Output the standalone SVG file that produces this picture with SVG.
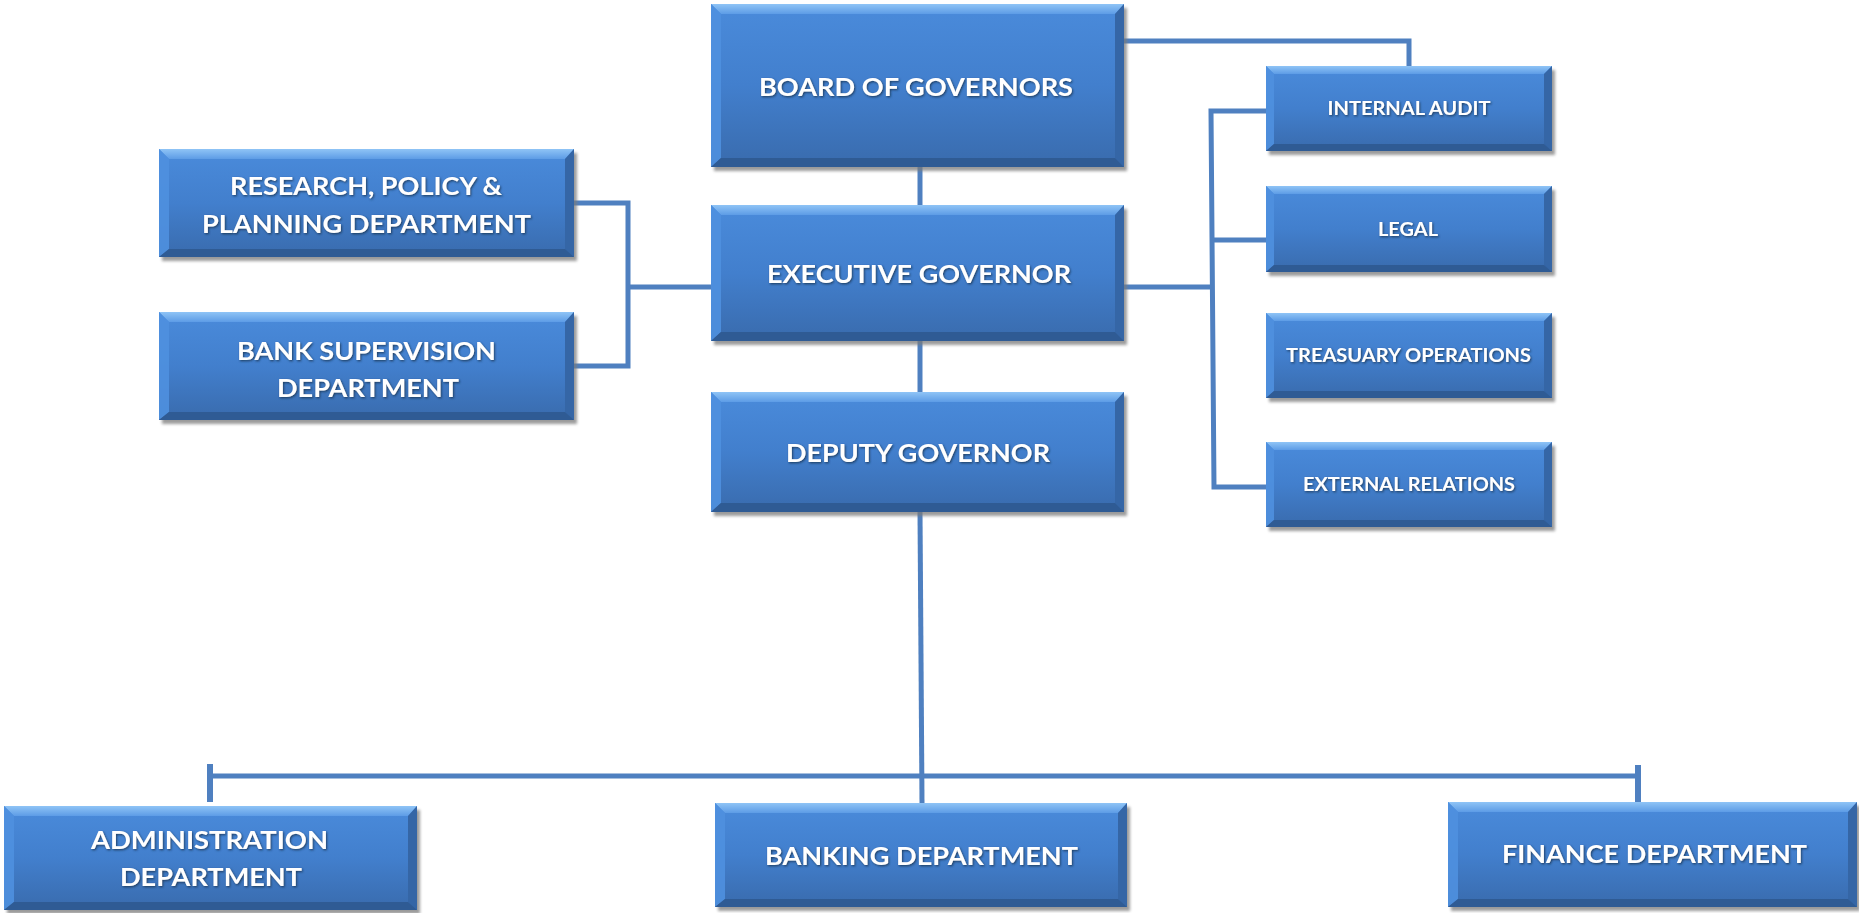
<svg xmlns="http://www.w3.org/2000/svg" width="1859" height="913" viewBox="0 0 1859 913">
  <defs>
    <linearGradient id="faceGrad" x1="0" y1="0" x2="0" y2="1">
      <stop offset="0" stop-color="#4a8bdb"/>
      <stop offset="0.5" stop-color="#427fcd"/>
      <stop offset="1" stop-color="#396bad"/>
    </linearGradient>
    <linearGradient id="topGrad" x1="0" y1="0" x2="0" y2="1">
      <stop offset="0" stop-color="#8fc4f6"/>
      <stop offset="1" stop-color="#5d9ce6"/>
    </linearGradient>
    <filter id="boxShadow" x="-5%" y="-5%" width="110%" height="115%">
      <feGaussianBlur stdDeviation="1.5"/>
    </filter>
    <filter id="textShadow" x="-5%" y="-30%" width="110%" height="160%">
      <feDropShadow dx="1" dy="1.2" stdDeviation="1" flood-color="#17304f" flood-opacity="0.85"/>
    </filter>
    <style>
      .sh { fill: #7a7a7a; opacity: 0.75; filter: url(#boxShadow); }
      .face { fill: url(#faceGrad); }
      .bt { fill: url(#topGrad); }
      .bl { fill: #4f90df; opacity: 0.9; }
      .br { fill: #3566a6; }
      .bb { fill: #2f5b94; }
      .lbl { fill: #ffffff; font-family: Lato, "Liberation Sans", sans-serif; font-weight: 700; text-anchor: middle; filter: url(#textShadow); }
      .big { font-size: 25px; }
      .mid { font-size: 24px; }
      .small { font-size: 18px; }
      .conn { fill: none; stroke: #4f80c0; stroke-width: 5; }
      .tick { fill: none; stroke: #4f80c0; stroke-width: 6; }
    </style>
  </defs>

  <rect width="1859" height="913" fill="#ffffff"/>

  <!-- connectors -->
  <g id="connectors">
    <path class="conn" d="M1124,41 H1409 V66"/>
    <path class="conn" d="M920,167 V205"/>
    <path class="conn" d="M920,341 V392"/>
    <path class="conn" d="M920,512 L922,803"/>
    <path class="conn" d="M574,203 H628 V366 H574"/>
    <path class="conn" d="M628,287 H711"/>
    <path class="conn" d="M1124,287 H1212"/>
    <path class="conn" d="M1266,111 H1211 L1214,487 H1266"/>
    <path class="conn" d="M1212,240 H1266"/>
    <path class="conn" d="M210,776 H1638"/>
    <path class="tick" d="M210,764 V802"/>
    <path class="tick" d="M1638,765 V802"/>
  </g>

  <!-- board of governors -->
  <g id="board" transform="translate(711,4)">
    <rect class="sh" x="3" y="4" width="413" height="163"/>
    <rect class="face" width="413" height="163"/>
    <polygon class="bt" points="0,0 413,0 404,10 10,10"/>
    <polygon class="bl" points="0,0 10,10 10,154 0,163"/>
    <polygon class="br" points="413,0 413,163 404,154 404,10"/>
    <polygon class="bb" points="0,163 10,154 404,154 413,163"/>
    <text class="lbl big" x="205" y="92" textLength="314" lengthAdjust="spacingAndGlyphs">BOARD OF GOVERNORS</text>
  </g>

  <!-- executive governor -->
  <g id="executive" transform="translate(711,205)">
    <rect class="sh" x="3" y="4" width="413" height="136"/>
    <rect class="face" width="413" height="136"/>
    <polygon class="bt" points="0,0 413,0 404,10 10,10"/>
    <polygon class="bl" points="0,0 10,10 10,127 0,136"/>
    <polygon class="br" points="413,0 413,136 404,127 404,10"/>
    <polygon class="bb" points="0,136 10,127 404,127 413,136"/>
    <text class="lbl big" x="208" y="78" textLength="304" lengthAdjust="spacingAndGlyphs">EXECUTIVE GOVERNOR</text>
  </g>

  <!-- deputy governor -->
  <g id="deputy" transform="translate(711,392)">
    <rect class="sh" x="3" y="4" width="413" height="120"/>
    <rect class="face" width="413" height="120"/>
    <polygon class="bt" points="0,0 413,0 404,10 10,10"/>
    <polygon class="bl" points="0,0 10,10 10,111 0,120"/>
    <polygon class="br" points="413,0 413,120 404,111 404,10"/>
    <polygon class="bb" points="0,120 10,111 404,111 413,120"/>
    <text class="lbl big" x="207" y="70" textLength="264" lengthAdjust="spacingAndGlyphs">DEPUTY GOVERNOR</text>
  </g>

  <!-- research, policy & planning -->
  <g id="research" transform="translate(159,149)">
    <rect class="sh" x="3" y="4" width="415" height="108"/>
    <rect class="face" width="415" height="108"/>
    <polygon class="bt" points="0,0 415,0 406,10 10,10"/>
    <polygon class="bl" points="0,0 10,10 10,100 0,108"/>
    <polygon class="br" points="415,0 415,108 406,100 406,10"/>
    <polygon class="bb" points="0,108 10,100 406,100 415,108"/>
    <text class="lbl mid" x="207" y="46" textLength="272" lengthAdjust="spacingAndGlyphs">RESEARCH, POLICY &amp;</text>
    <text class="lbl mid" x="207.5" y="84" textLength="329" lengthAdjust="spacingAndGlyphs">PLANNING DEPARTMENT</text>
  </g>

  <!-- bank supervision -->
  <g id="supervision" transform="translate(159,312)">
    <rect class="sh" x="3" y="4" width="415" height="108"/>
    <rect class="face" width="415" height="108"/>
    <polygon class="bt" points="0,0 415,0 406,10 10,10"/>
    <polygon class="bl" points="0,0 10,10 10,100 0,108"/>
    <polygon class="br" points="415,0 415,108 406,100 406,10"/>
    <polygon class="bb" points="0,108 10,100 406,100 415,108"/>
    <text class="lbl mid" x="207.5" y="48" textLength="259" lengthAdjust="spacingAndGlyphs">BANK SUPERVISION</text>
    <text class="lbl mid" x="209" y="85" textLength="182" lengthAdjust="spacingAndGlyphs">DEPARTMENT</text>
  </g>

  <!-- internal audit -->
  <g id="audit" transform="translate(1266,66)">
    <rect class="sh" x="3" y="4" width="286" height="85"/>
    <rect class="face" width="286" height="85"/>
    <polygon class="bt" points="0,0 286,0 278,8 8,8"/>
    <polygon class="bl" points="0,0 8,8 8,78 0,85"/>
    <polygon class="br" points="286,0 286,85 278,78 278,8"/>
    <polygon class="bb" points="0,85 8,78 278,78 286,85"/>
    <text class="lbl small" x="143" y="48.5" textLength="163" lengthAdjust="spacingAndGlyphs">INTERNAL AUDIT</text>
  </g>

  <!-- legal -->
  <g id="legal" transform="translate(1266,186)">
    <rect class="sh" x="3" y="4" width="286" height="86"/>
    <rect class="face" width="286" height="86"/>
    <polygon class="bt" points="0,0 286,0 278,8 8,8"/>
    <polygon class="bl" points="0,0 8,8 8,79 0,86"/>
    <polygon class="br" points="286,0 286,86 278,79 278,8"/>
    <polygon class="bb" points="0,86 8,79 278,79 286,86"/>
    <text class="lbl small" x="142" y="49.5" textLength="60" lengthAdjust="spacingAndGlyphs">LEGAL</text>
  </g>

  <!-- treasuary operations -->
  <g id="treasuary" transform="translate(1266,313)">
    <rect class="sh" x="3" y="4" width="286" height="85"/>
    <rect class="face" width="286" height="85"/>
    <polygon class="bt" points="0,0 286,0 278,8 8,8"/>
    <polygon class="bl" points="0,0 8,8 8,78 0,85"/>
    <polygon class="br" points="286,0 286,85 278,78 278,8"/>
    <polygon class="bb" points="0,85 8,78 278,78 286,85"/>
    <text class="lbl small" x="142.5" y="48.5" textLength="245" lengthAdjust="spacingAndGlyphs">TREASUARY OPERATIONS</text>
  </g>

  <!-- external relations -->
  <g id="external" transform="translate(1266,442)">
    <rect class="sh" x="3" y="4" width="286" height="85"/>
    <rect class="face" width="286" height="85"/>
    <polygon class="bt" points="0,0 286,0 278,8 8,8"/>
    <polygon class="bl" points="0,0 8,8 8,78 0,85"/>
    <polygon class="br" points="286,0 286,85 278,78 278,8"/>
    <polygon class="bb" points="0,85 8,78 278,78 286,85"/>
    <text class="lbl small" x="143" y="48.5" textLength="212" lengthAdjust="spacingAndGlyphs">EXTERNAL RELATIONS</text>
  </g>

  <!-- administration -->
  <g id="administration" transform="translate(4,806)">
    <rect class="sh" x="3" y="4" width="413" height="104"/>
    <rect class="face" width="413" height="104"/>
    <polygon class="bt" points="0,0 413,0 404,10 10,10"/>
    <polygon class="bl" points="0,0 10,10 10,96 0,104"/>
    <polygon class="br" points="413,0 413,104 404,96 404,10"/>
    <polygon class="bb" points="0,104 10,96 404,96 413,104"/>
    <text class="lbl big" x="205.5" y="43" textLength="237" lengthAdjust="spacingAndGlyphs">ADMINISTRATION</text>
    <text class="lbl big" x="207" y="80" textLength="182" lengthAdjust="spacingAndGlyphs">DEPARTMENT</text>
  </g>

  <!-- banking -->
  <g id="banking" transform="translate(715,803)">
    <rect class="sh" x="3" y="4" width="412" height="104"/>
    <rect class="face" width="412" height="104"/>
    <polygon class="bt" points="0,0 412,0 403,10 10,10"/>
    <polygon class="bl" points="0,0 10,10 10,96 0,104"/>
    <polygon class="br" points="412,0 412,104 403,96 403,10"/>
    <polygon class="bb" points="0,104 10,96 403,96 412,104"/>
    <text class="lbl big" x="206.5" y="62" textLength="313" lengthAdjust="spacingAndGlyphs">BANKING DEPARTMENT</text>
  </g>

  <!-- finance -->
  <g id="finance" transform="translate(1448,802)">
    <rect class="sh" x="3" y="4" width="409" height="105"/>
    <rect class="face" width="409" height="105"/>
    <polygon class="bt" points="0,0 409,0 400,10 10,10"/>
    <polygon class="bl" points="0,0 10,10 10,97 0,105"/>
    <polygon class="br" points="409,0 409,105 400,97 400,10"/>
    <polygon class="bb" points="0,105 10,97 400,97 409,105"/>
    <text class="lbl big" x="206.5" y="61" textLength="305" lengthAdjust="spacingAndGlyphs">FINANCE DEPARTMENT</text>
  </g>
</svg>
